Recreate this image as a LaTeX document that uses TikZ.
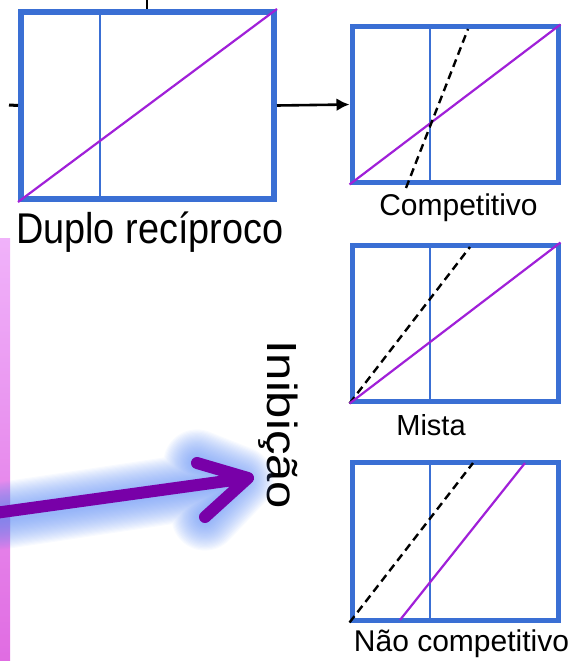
\documentclass[tikz,border=0pt]{standalone}
\usepackage{fontspec}
\setmainfont{Liberation Sans}
\usetikzlibrary{arrows.meta}
\definecolor{boxblue}{RGB}{58,111,212}
\definecolor{diagpurple}{RGB}{160,32,216}
\definecolor{arrowpurple}{RGB}{120,0,168}
\definecolor{glowblue}{RGB}{100,145,245}
\definecolor{pinktop}{RGB}{240,178,250}
\definecolor{pinkbot}{RGB}{224,108,226}
\begin{document}
\begin{tikzpicture}[x=1pt,y=-1pt,
  plotbox/.style={draw=boxblue,line width=5pt,inner sep=0pt,minimum width=206pt},
  bigbox/.style={draw=boxblue,line width=6pt,inner sep=0pt,minimum width=253pt,minimum height=187pt},
  vline/.style={draw=boxblue,line width=2.2pt},
  diag/.style={draw=diagpurple,line width=2.2pt},
  dashline/.style={draw=black,line width=2.4pt,dash pattern=on 8pt off 5pt},
  tick/.style={draw=black,line width=3pt},
  lbl/.style={inner sep=0pt,text=black}]
\useasboundingbox (0,0) rectangle (573,661);
% pink bar
\shade[top color=pinktop,bottom color=pinkbot] (0,238) rectangle (10,661);
% boxes
\node[bigbox] (big) at (147.5,105.5) {};
\node[plotbox,minimum height=155pt] (comp) at (455,104.5) {};
\node[plotbox,minimum height=156pt] (mista) at (455,323) {};
\node[plotbox,minimum height=158pt] (nao) at (455,541) {};
% inner lines big
\draw[vline] (100,12) -- (100,199);
\draw[diag] (big.south west) -- (big.north east);
% competitivo
\draw[vline] (430,27) -- (430,182);
\draw[diag] (comp.south west) -- (comp.north east);
\draw[dashline] (406,188) -- (468,29);
% mista
\draw[vline] (430,245) -- (430,401);
\draw[dashline] (mista.south west) -- (470,247);
\draw[diag] (mista.south west) -- (mista.north east);
% nao competitivo
\draw[vline] (430,462) -- (430,620);
\draw[dashline] (nao.south west) -- (473,463);
\draw[diag] (400,620) -- (525,463);
% ticks and connector
\coordinate (lt) at (9,105);
\coordinate (tt) at (147,0);
\draw[tick] (lt) -- (big.west);
\draw[black,line width=2.5pt] (tt) -- (147,9);
\draw[black,line width=2.6pt,-{Latex[length=13pt,width=13pt]}] (big.east) -- (comp.west);
% labels
\node[lbl,anchor=base west,font=\fontsize{43}{43}\selectfont] (dup) at (16,243) {\scalebox{0.88}[1]{Duplo recíproco}};
\node[lbl,anchor=base,font=\fontsize{30}{30}\selectfont] (lcomp) at (458.5,215) {Competitivo};
\node[lbl,anchor=base,font=\fontsize{29}{29}\selectfont] (lmista) at (431,435) {Mista};
\node[lbl,anchor=base,font=\fontsize{30}{30}\selectfont] (lnao) at (461.5,651) {Não competitivo};
\node[lbl,anchor=base west,rotate=-90,font=\fontsize{49}{49}\selectfont] (inib) at (267,340) {\scalebox{1}[0.86]{Inibição}};
% glowing arrow
\coordinate (a0) at (-5,513);
\coordinate (tip) at (248,478);
\coordinate (h1) at (197,463);
\coordinate (h2) at (205,517);
\coordinate (gtip) at (240,480);
\begin{scope}[line cap=round,line join=round]
\foreach \i in {0,...,24}{
  \draw[glowblue,line width={12+2.3*\i},opacity=0.045] (0,516) -- (gtip) (h1) -- (gtip) -- (h2);
}
\draw[arrowpurple,line width=12pt] (a0) -- (tip) (h1) -- (tip) -- (h2);
\end{scope}
\end{tikzpicture}
\end{document}
